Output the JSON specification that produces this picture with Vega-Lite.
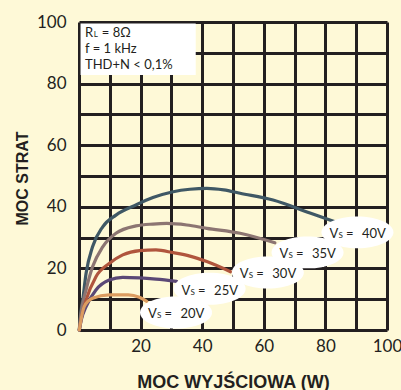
{
  "$schema": "https://vega.github.io/schema/vega-lite/v6.json",
  "width": 308,
  "height": 308,
  "autosize": {"type": "none"},
  "padding": {"left": 79, "top": 22, "right": 14, "bottom": 60},
  "background": "#FEF9D7",
  "config": {
    "view": {"stroke": null},
    "axis": {
      "grid": true, "gridColor": "#231f20", "gridWidth": 3, "gridOpacity": 1,
      "ticks": false, "domain": false,
      "labelFont": "Lato", "labelFontSize": 17, "labelColor": "#231f20",
      "titleFont": "Liberation Sans", "titleFontSize": 16, "titleFontWeight": "bold", "titleColor": "#231f20"
    }
  },
  "datasets": {
    "curves": [
      {"vs": "40V", "p": 0.1, "s": 0}, {"vs": "40V", "p": 0.5, "s": 5}, {"vs": "40V", "p": 1.2, "s": 9.7}, {"vs": "40V", "p": 2.3, "s": 18.4}, {"vs": "40V", "p": 4.4, "s": 27}, {"vs": "40V", "p": 7.7, "s": 33.5}, {"vs": "40V", "p": 12, "s": 37.3}, {"vs": "40V", "p": 18.5, "s": 40.6}, {"vs": "40V", "p": 24, "s": 43}, {"vs": "40V", "p": 30.6, "s": 44.9}, {"vs": "40V", "p": 36, "s": 45.7}, {"vs": "40V", "p": 41.5, "s": 46}, {"vs": "40V", "p": 47, "s": 45.5}, {"vs": "40V", "p": 52.3, "s": 44.4}, {"vs": "40V", "p": 63, "s": 42.2}, {"vs": "40V", "p": 75, "s": 38}, {"vs": "40V", "p": 85.3, "s": 34.4},
      {"vs": "35V", "p": 0.1, "s": 0}, {"vs": "35V", "p": 0.6, "s": 5}, {"vs": "35V", "p": 2.3, "s": 13}, {"vs": "35V", "p": 4.4, "s": 20.5}, {"vs": "35V", "p": 7.7, "s": 27}, {"vs": "35V", "p": 12, "s": 31.4}, {"vs": "35V", "p": 18.5, "s": 33.8}, {"vs": "35V", "p": 24, "s": 34.4}, {"vs": "35V", "p": 28.5, "s": 34.6}, {"vs": "35V", "p": 35, "s": 34.1}, {"vs": "35V", "p": 41.5, "s": 33}, {"vs": "35V", "p": 52.3, "s": 31.4}, {"vs": "35V", "p": 63.6, "s": 28.3},
      {"vs": "30V", "p": 0.1, "s": 0}, {"vs": "30V", "p": 0.8, "s": 4}, {"vs": "30V", "p": 2.3, "s": 9.7}, {"vs": "30V", "p": 5.5, "s": 17.3}, {"vs": "30V", "p": 9.8, "s": 21.6}, {"vs": "30V", "p": 14.2, "s": 24.4}, {"vs": "30V", "p": 19.7, "s": 25.8}, {"vs": "30V", "p": 25, "s": 26}, {"vs": "30V", "p": 30.6, "s": 25.1}, {"vs": "30V", "p": 36, "s": 24}, {"vs": "30V", "p": 41.5, "s": 22.2}, {"vs": "30V", "p": 49.2, "s": 18.9},
      {"vs": "25V", "p": 0.1, "s": 0}, {"vs": "25V", "p": 0.8, "s": 3.5}, {"vs": "25V", "p": 2.3, "s": 7.6}, {"vs": "25V", "p": 5.5, "s": 13}, {"vs": "25V", "p": 9.8, "s": 16.2}, {"vs": "25V", "p": 14.2, "s": 17.1}, {"vs": "25V", "p": 19.7, "s": 16.9}, {"vs": "25V", "p": 25, "s": 16.5}, {"vs": "25V", "p": 31.7, "s": 15.8},
      {"vs": "20V", "p": 0.1, "s": 0}, {"vs": "20V", "p": 0.7, "s": 3.5}, {"vs": "20V", "p": 1.7, "s": 7.6}, {"vs": "20V", "p": 4.4, "s": 10.3}, {"vs": "20V", "p": 9.8, "s": 11.4}, {"vs": "20V", "p": 16, "s": 11.4}, {"vs": "20V", "p": 19.6, "s": 10.6}, {"vs": "20V", "p": 22, "s": 9.3}
    ],
    "labels": [
      {"vs": "40V", "p": 90.4, "s": 31.7},
      {"vs": "35V", "p": 74.2, "s": 25.2},
      {"vs": "30V", "p": 61.3, "s": 18.7},
      {"vs": "25V", "p": 42.4, "s": 13.4},
      {"vs": "20V", "p": 31.5, "s": 5.7}
    ],
    "info": [
      {"p": 1.95, "s": 95.0, "t": "R"},
      {"p": 7.4, "s": 95.0, "t": "=  8Ω"},
      {"p": 1.95, "s": 89.8, "t": "f  =  1 kHz"},
      {"p": 1.95, "s": 84.6, "t": "THD+N < 0,1%"}
    ]
  },
  "encoding": {
    "x": {"field": "p", "type": "quantitative", "scale": {"domain": [0, 100], "nice": false, "zero": false},
      "axis": {"values": [0, 10, 20, 30, 40, 50, 60, 70, 80, 90, 100],
        "labelExpr": "datum.value % 20 == 0 && datum.value > 0 ? datum.label : ''",
        "labelBaseline": "alphabetic", "labelPadding": 21, "labelAlign": "center",
        "title": "MOC WYJŚCIOWA (W)", "titleFontSize": 18, "titleY": 52, "titleBaseline": "middle"}},
    "y": {"field": "s", "type": "quantitative", "scale": {"domain": [0, 100], "nice": false, "zero": false},
      "axis": {"values": [0, 10, 20, 30, 40, 50, 60, 70, 80, 90, 100],
        "labelExpr": "datum.value % 20 == 0 ? datum.label : ''",
        "labelBaseline": "middle", "labelPadding": 13,
        "title": "MOC STRAT", "titleX": -57, "titleY": 156, "titleBaseline": "middle", "titleAngle": -90}}
  },
  "layer": [
    {
      "data": {"values": [{"a": 0.5, "b": 37.9, "c": 82.8, "d": 99.5}]},
      "mark": {"type": "rect", "fill": "#ffffff"},
      "encoding": {
        "x": {"field": "a", "type": "quantitative"},
        "x2": {"field": "b"},
        "y": {"field": "c", "type": "quantitative"},
        "y2": {"field": "d"}
      }
    },
    {
      "data": {"name": "curves"},
      "mark": {"type": "line", "interpolate": "monotone", "strokeWidth": 3.2, "strokeCap": "round"},
      "encoding": {
        "color": {"field": "vs", "type": "nominal", "legend": null,
          "scale": {"domain": ["40V", "35V", "30V", "25V", "20V"], "range": ["#3f5865", "#8c7572", "#b0553d", "#5b4876", "#dc9c60"]}}
      }
    },
    {
      "data": {"name": "labels"},
      "mark": {"type": "point", "filled": true, "fill": "#ffffff", "opacity": 1, "strokeWidth": 0,
        "shape": "M-1,0A1,0.444,0,1,1,1,0A1,0.444,0,1,1,-1,0Z", "size": 5184}
    },
    {
      "data": {"name": "labels"},
      "mark": {"type": "text", "text": "V", "align": "left", "baseline": "alphabetic", "dx": -28, "dy": 6, "font": "Lato", "fontSize": 13, "color": "#231f20"}
    },
    {
      "data": {"name": "labels"},
      "mark": {"type": "text", "text": "S", "align": "left", "baseline": "alphabetic", "dx": -19, "dy": 6, "font": "Lato", "fontSize": 8, "color": "#231f20"}
    },
    {
      "data": {"name": "labels"},
      "mark": {"type": "text", "text": "=", "align": "left", "baseline": "alphabetic", "dx": -11.5, "dy": 6, "font": "Lato", "fontSize": 13, "color": "#231f20"}
    },
    {
      "data": {"name": "labels"},
      "mark": {"type": "text", "align": "left", "baseline": "alphabetic", "dx": 4.5, "dy": 6, "font": "Lato", "fontSize": 13, "color": "#231f20"},
      "encoding": {"text": {"field": "vs"}}
    },
    {
      "data": {"name": "info"},
      "mark": {"type": "text", "align": "left", "baseline": "alphabetic", "font": "Lato", "fontSize": 13, "color": "#231f20"},
      "encoding": {"text": {"field": "t"}}
    },
    {
      "data": {"values": [{"p": 4.8, "s": 95.0, "t": "L"}]},
      "mark": {"type": "text", "align": "left", "baseline": "alphabetic", "font": "Lato", "fontSize": 8, "color": "#231f20"},
      "encoding": {"text": {"field": "t"}}
    }
  ]
}
